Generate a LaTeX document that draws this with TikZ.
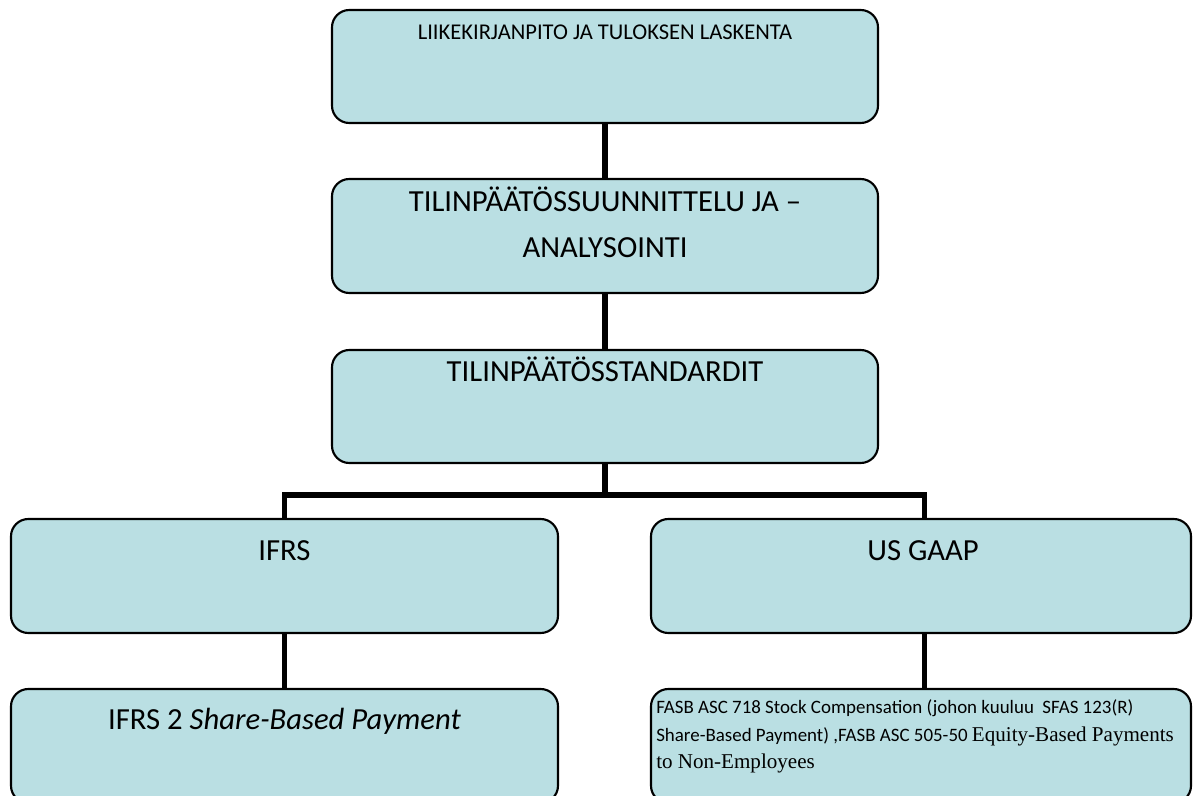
\documentclass[tikz,border=0pt]{standalone}
\usepackage{fontspec}
\setmainfont{Carlito}
\newfontfamily\tnr{Liberation Serif}
\definecolor{boxfill}{RGB}{186,223,227}
\tikzset{
  box/.style={draw=black, line width=1.6pt, fill=boxfill, rounded corners=13pt, inner sep=0pt, outer sep=0pt},
  conn/.style={draw=black, line width=4.2pt},
  big/.style={inner sep=0pt, anchor=base, font=\fontsize{23}{27}\selectfont},
  small/.style={inner sep=0pt, anchor=base, font=\fontsize{16.9}{20}\selectfont},
  fasb/.style={inner sep=0pt, anchor=base west, font=\fontsize{14.2}{17}\selectfont}
}
\newcommand{\tnrbig}{\tnr\fontsize{15.8}{19}\selectfont}
\begin{document}
\begin{tikzpicture}[x=0.75pt,y=-0.75pt]
\useasboundingbox (0,0) rectangle (1193,796);
\clip (0,0) rectangle (1193,796);
% boxes
\node[box, minimum width=409.5pt, minimum height=84.75pt] (b1) at (605,66.5) {};
\node[box, minimum width=409.5pt, minimum height=85.5pt] (b2) at (605,236) {};
\node[box, minimum width=409.5pt, minimum height=84.75pt] (b3) at (605,406.5) {};
\node[box, minimum width=410.25pt, minimum height=85.5pt] (b4) at (284.5,576) {};
\node[box, minimum width=405pt, minimum height=85.5pt] (b5) at (921,576) {};
\node[box, minimum width=410.25pt, minimum height=85.5pt] (b6) at (284.5,746) {};
\node[box, minimum width=405pt, minimum height=85.5pt] (b7) at (921,746) {};
% connectors
\coordinate (fork) at (605,495);
\coordinate (b5top) at ([xshift=2.6pt]b5.north);
\coordinate (b5bot) at ([xshift=2.6pt]b5.south);
\coordinate (b7top) at ([xshift=2.6pt]b7.north);
\draw[conn] (b1.south) -- (b2.north);
\draw[conn] (b2.south) -- (b3.north);
\draw[conn] (b3.south) -- (fork);
\draw[conn] (b4.north) -- (b4.north |- fork) -- (b5top |- fork) -- (b5top);
\draw[conn] (b4.south) -- (b6.north);
\draw[conn] (b5bot) -- (b7top);
% texts
\node[small] (t1) at (605,40) {LIIKEKIRJANPITO JA TULOKSEN LASKENTA};
\node[big] (t2a) at (605,211.5) {TILINPÄÄTÖSSUUNNITTELU JA –};
\node[big] (t2b) at (605,257.5) {ANALYSOINTI};
\node[big] (t3) at (605,381.5) {TILINPÄÄTÖSSTANDARDIT};
\node[big] (t4) at (284.5,560) {IFRS};
\node[big] (t5) at (923,560) {US GAAP};
\node[big] (t6) at (284.5,729.5) {IFRS 2 \textit{Share-Based Payment}};
\node[fasb] (t7a) at (656,713) {FASB ASC 718 Stock Compensation (johon kuuluu \ SFAS 123(R)};
\node[fasb] (t7b) at (656,741) {Share-Based Payment) ,FASB ASC 505-50 {\tnrbig Equity-Based Payments}};
\node[fasb] (t7c) at (656,768) {\tnrbig to Non-Employees};
\end{tikzpicture}
\end{document}
